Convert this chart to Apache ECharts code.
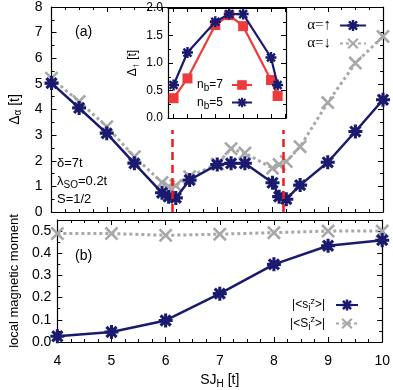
<!DOCTYPE html>
<html>
<head>
<meta charset="utf-8">
<script src="https://cdn.jsdelivr.net/npm/echarts@6/dist/echarts.min.js"></script>
<style>
  html, body { margin: 0; padding: 0; background: #fff; }
  #chart { width: 393px; height: 390px; }
</style>
</head>
<body>
<div id="chart"></div>
<script>
// panel (a): gap vs SJ_H
const xGap = [4, 4.5, 5, 5.5, 6, 6.12, 6.25, 6.5, 7, 7.25, 7.5, 8, 8.12, 8.25, 8.5, 9, 9.5, 10];
const gapUp = [5.03, 4.06, 3.07, 1.9, 0.75, 0.6, 0.55, 1.25, 1.85, 1.9, 1.9, 1.14, 0.6, 0.5, 1.05, 1.94, 3.14, 4.38];
const gapDown = [5.22, 4.31, 3.33, 2.16, 1.15, 1.0, 1.03, 1.38, 1.87, 2.47, 2.3, 1.71, 1.85, 1.97, 2.55, 4.27, 5.81, 6.85];
const criticalJ = [6.19, 8.19];

// inset: gap for two chain lengths
const xInset = [6.25, 6.5, 7, 7.25, 7.5, 8, 8.12];
const insetNb7 = [0.36, 0.72, 1.69, 1.87, 1.67, 0.69, 0.4];
const insetNb5 = [0.6, 1.19, 1.75, 1.89, 1.89, 1.1, 0.6];
const insetTicks = [6.25, 6.5, 6.75, 7, 7.25, 7.5, 7.75, 8, 8.25];

// panel (b): local magnetic moments
const xMoment = [4, 5, 6, 7, 8, 9, 10];
const momentSmall = [0.026, 0.045, 0.097, 0.218, 0.35, 0.434, 0.459];
const momentBig = [0.489, 0.489, 0.481, 0.486, 0.493, 0.5, 0.5];

const NAVY = '#1a1a6e';
const GRAY = '#a8a8a8';
const RED = '#ee3a3a';
const FONT = 'Liberation Sans';

// gnuplot-like point shapes (asterisk and cross)
const STAR = 'path://M0,39L100,39L100,61L0,61Z M39,0L61,0L61,100L39,100Z ' +
  'M22,6L94,78L78,94L6,22Z M78,6L94,22L22,94L6,78Z';
const CROSS = 'path://M14.4,1.6L98.4,85.6L85.6,98.4L1.6,14.4Z M85.6,1.6L98.4,14.4L14.4,98.4L1.6,85.6Z';

const pairs = (xs, ys) => xs.map((x, i) => [x, ys[i]]);

const richSub = {
  sub: { fontFamily: FONT, fontSize: 10, padding: [7, 0, 0, 0], color: '#000' },
  sup: { fontFamily: FONT, fontSize: 9, padding: [0, 0, 7, 0], color: '#000' },
};

const tickStyle = { lineStyle: { color: '#000', width: 1 } };

function valueAxis(opts) {
  return Object.assign({
    type: 'value',
    splitLine: { show: false },
    axisLine: { show: true, onZero: false, lineStyle: { color: '#000', width: 1.2 } },
    axisTick: Object.assign({ inside: true, length: 5 }, tickStyle),
    minorTick: Object.assign({ show: true, length: 3 }, tickStyle),
    axisLabel: { show: false },
  }, opts);
}

const xBase = { min: 4, max: 10, interval: 1 };
const xMinor = Object.assign({ show: true, length: 3, splitNumber: 4 }, tickStyle);
const labelStyle = { color: '#000', fontFamily: FONT, fontSize: 14 };

const legendNames = {
  up: '{a|α=↑}',
  down: '{a|α=↓}',
  nb7: 'n{sub|b}=7',
  nb5: 'n{sub|b}=5',
  small: '|<s{sub|i}{sup|z}>|',
  big: '|<S{sub|i}{sup|z}>|',
};

const chart = echarts.init(document.getElementById('chart'));

chart.setOption({
  animation: false,
  backgroundColor: '#fff',
  grid: [
    { left: 48, right: 10, top: 7, height: 205 },
    { left: 48, right: 10, top: 220, height: 125 },
    { left: 168, right: 107, top: 8, height: 110, show: true, backgroundColor: '#fff', borderWidth: 0, z: 5 },
  ],
  xAxis: [
    valueAxis(Object.assign({ gridIndex: 0, position: 'bottom', minorTick: xMinor }, xBase)),
    valueAxis(Object.assign({ gridIndex: 0, position: 'top', minorTick: xMinor }, xBase)),
    valueAxis(Object.assign({
      gridIndex: 1, position: 'bottom', minorTick: xMinor,
      axisLabel: Object.assign({ show: true, margin: 12 }, labelStyle),
      name: 'SJ{sub|H} [t]', nameLocation: 'middle', nameGap: 30,
      nameTextStyle: Object.assign({ rich: richSub }, labelStyle),
    }, xBase)),
    valueAxis(Object.assign({ gridIndex: 1, position: 'top', minorTick: xMinor }, xBase)),
    valueAxis({ gridIndex: 2, position: 'bottom', min: 6.15, max: 8.27, minorTick: { show: false },
      axisTick: Object.assign({ inside: true, length: 4, customValues: insetTicks }, tickStyle), z: 6 }),
    valueAxis({ gridIndex: 2, position: 'top', min: 6.15, max: 8.27, minorTick: { show: false },
      axisTick: Object.assign({ inside: true, length: 4, customValues: insetTicks }, tickStyle), z: 6 }),
  ],
  yAxis: [
    valueAxis({
      gridIndex: 0, position: 'left', min: 0, max: 8, interval: 1,
      minorTick: Object.assign({ show: true, length: 3, splitNumber: 2 }, tickStyle),
      axisLabel: Object.assign({ show: true, margin: 9 }, labelStyle),
      name: 'Δ{sub|α} [t]', nameLocation: 'middle', nameGap: 28,
      nameTextStyle: Object.assign({ rich: richSub }, labelStyle),
    }),
    valueAxis({ gridIndex: 0, position: 'right', min: 0, max: 8, interval: 1,
      minorTick: Object.assign({ show: true, length: 3, splitNumber: 2 }, tickStyle) }),
    valueAxis({
      gridIndex: 1, position: 'left', min: 0, max: 0.55, interval: 0.1,
      minorTick: Object.assign({ show: true, length: 3, splitNumber: 2 }, tickStyle),
      axisLabel: Object.assign({ show: true, margin: 6, formatter: v => (v > 0.51 ? '' : v.toFixed(1)) }, labelStyle),
      name: 'local magnetic moment', nameLocation: 'middle', nameGap: 33,
      nameTextStyle: { color: '#000', fontFamily: FONT, fontSize: 13 },
    }),
    valueAxis({ gridIndex: 1, position: 'right', min: 0, max: 0.55, interval: 0.1,
      minorTick: Object.assign({ show: true, length: 3, splitNumber: 2 }, tickStyle) }),
    valueAxis({
      gridIndex: 2, position: 'left', min: 0, max: 2, interval: 0.5,
      minorTick: Object.assign({ show: true, length: 3, splitNumber: 2 }, tickStyle),
      axisLabel: { show: true, margin: 5, color: '#000', fontFamily: FONT, fontSize: 12, formatter: v => v.toFixed(1) },
      name: 'Δ{sub|↑} [t]', nameLocation: 'middle', nameGap: 27,
      nameTextStyle: { color: '#000', fontFamily: FONT, fontSize: 12, rich: richSub },
      z: 6,
    }),
    valueAxis({ gridIndex: 2, position: 'right', min: 0, max: 2, interval: 0.5,
      minorTick: Object.assign({ show: true, length: 3, splitNumber: 2 }, tickStyle), z: 6 }),
  ],
  legend: [
    {
      data: ['up', 'down'], orient: 'vertical', right: 21, top: 13, align: 'right',
      itemWidth: 26, itemHeight: 14, itemGap: 3,
      formatter: n => legendNames[n],
      textStyle: { padding: [0, 4, 0, 0], rich: { a: { fontFamily: 'Liberation Serif', fontSize: 15, color: '#000' } } },
    },
    {
      data: ['nb7', 'nb5'], orient: 'vertical', right: 135, top: 74, align: 'right', z: 7,
      itemWidth: 20, itemHeight: 12, itemGap: 3,
      formatter: n => legendNames[n],
      textStyle: { color: '#000', fontFamily: FONT, fontSize: 12, padding: [0, 4, 0, 0], rich: richSub },
    },
    {
      data: ['small', 'big'], orient: 'vertical', right: 29, top: 292, align: 'right',
      itemWidth: 22, itemHeight: 14, itemGap: 2,
      formatter: n => legendNames[n],
      textStyle: { color: '#000', fontFamily: FONT, fontSize: 12, padding: [0, 6, 0, 0], rich: richSub },
    },
  ],
  series: [
    {
      name: 'down', type: 'line', xAxisIndex: 0, yAxisIndex: 0, z: 2,
      data: pairs(xGap, gapDown),
      symbol: CROSS, symbolSize: 14,
      lineStyle: { color: GRAY, width: 3, type: [3, 3] },
      itemStyle: { color: GRAY, borderWidth: 0 },
      markLine: {
        silent: true, symbol: ['none', 'none'], label: { show: false },
        lineStyle: { color: '#ee1c1c', width: 2.5, type: [8, 5] },
        data: criticalJ.map(x => [{ coord: [x, 0] }, { coord: [x, 3.2] }]),
      },
    },
    {
      name: 'up', type: 'line', xAxisIndex: 0, yAxisIndex: 0, z: 3,
      data: pairs(xGap, gapUp),
      symbol: STAR, symbolSize: 14,
      lineStyle: { color: NAVY, width: 2.5 },
      itemStyle: { color: NAVY, borderWidth: 0 },
    },
    {
      name: 'nb7', type: 'line', xAxisIndex: 4, yAxisIndex: 4, z: 6,
      data: pairs(xInset, insetNb7),
      symbol: 'rect', symbolSize: 10,
      lineStyle: { color: RED, width: 2.2 },
      itemStyle: { color: RED, borderWidth: 0 },
    },
    {
      name: 'nb5', type: 'line', xAxisIndex: 4, yAxisIndex: 4, z: 7,
      data: pairs(xInset, insetNb5),
      symbol: STAR, symbolSize: 11,
      lineStyle: { color: NAVY, width: 2.2 },
      itemStyle: { color: NAVY, borderWidth: 0 },
    },
    {
      name: 'big', type: 'line', xAxisIndex: 2, yAxisIndex: 2, z: 2,
      data: pairs(xMoment, momentBig),
      symbol: CROSS, symbolSize: 14,
      lineStyle: { color: GRAY, width: 3, type: [3, 3] },
      itemStyle: { color: GRAY, borderWidth: 0 },
    },
    {
      name: 'small', type: 'line', xAxisIndex: 2, yAxisIndex: 2, z: 3,
      data: pairs(xMoment, momentSmall),
      symbol: STAR, symbolSize: 14,
      lineStyle: { color: NAVY, width: 2.5 },
      itemStyle: { color: NAVY, borderWidth: 0 },
    },
  ],
  graphic: [
    { type: 'text', left: 75, top: 25, style: { text: '(a)', fontFamily: FONT, fontSize: 14, fill: '#000' } },
    { type: 'text', left: 75, top: 249, style: { text: '(b)', fontFamily: FONT, fontSize: 14, fill: '#000' } },
    { type: 'text', left: 57, top: 157, style: { text: 'δ=7t', fontFamily: FONT, fontSize: 13, fill: '#000' } },
    { type: 'text', left: 57, top: 175, style: { text: 'λ{sub|SO}=0.2t', fontFamily: FONT, fontSize: 13, fill: '#000', rich: richSub } },
    { type: 'text', left: 57, top: 193, style: { text: 'S=1/2', fontFamily: FONT, fontSize: 13, fill: '#000' } },
  ],
});
</script>
</body>
</html>
